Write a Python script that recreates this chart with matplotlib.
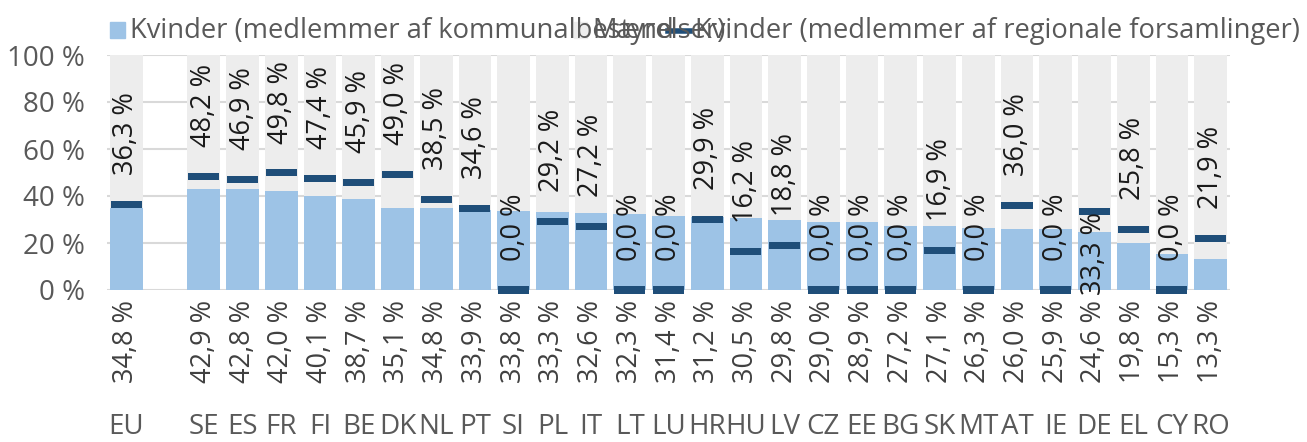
import numpy as np
import matplotlib
matplotlib.use("Agg")
import matplotlib.pyplot as plt
import matplotlib.patches as mpatches
from matplotlib.lines import Line2D

plt.rcParams['font.family'] = ['Open Sans', 'DejaVu Sans']

# Data
countries = ['EU', 'SE', 'ES', 'FR', 'FI', 'BE', 'DK', 'NL', 'PT', 'SI', 'PL', 'IT', 'LT', 'LU',
             'HR', 'HU', 'LV', 'CZ', 'EE', 'BG', 'SK', 'MT', 'AT', 'IE', 'DE', 'EL', 'CY', 'RO']
women_local = [34.8, 42.9, 42.8, 42.0, 40.1, 38.7, 35.1, 34.8, 33.9, 33.8, 33.3, 32.6, 32.3, 31.4,
               31.2, 30.5, 29.8, 29.0, 28.9, 27.2, 27.1, 26.3, 26.0, 25.9, 24.6, 19.8, 15.3, 13.3]
women_regional = [36.3, 48.2, 46.9, 49.8, 47.4, 45.9, 49.0, 38.5, 34.6, 0.0, 29.2, 27.2, 0.0, 0.0,
                  29.9, 16.2, 18.8, 0.0, 0.0, 0.0, 16.9, 0.0, 36.0, 0.0, 33.3, 25.8, 0.0, 21.9]
label_below = ['DE']

W, H = 1307, 442
fig = plt.figure(figsize=(W / 100, H / 100), dpi=100)
ax = fig.add_axes([107 / W, 152 / H, (1230 - 107) / W, 235 / H])

# EU first, then an empty slot, then the member states
x = np.array([0] + list(range(2, len(countries) + 1)))
bw = 0.845

light_blue = '#9DC3E6'
grey = '#EDEDED'
dark_blue = '#1F4E79'

ax.bar(x, 100, width=bw, color=grey, zorder=2)
ax.bar(x, women_local, width=bw, color=light_blue, zorder=3)
ax.bar(x, 3.0, bottom=np.array(women_regional) - 1.5, width=bw * 0.95,
       color=dark_blue, zorder=4, clip_on=False)

lab_fs = 19.5
for xi, c, loc, reg in zip(x, countries, women_local, women_regional):
    lab = f"{reg:.1f} %".replace('.', ',')
    if c in label_below:
        ax.text(xi, reg, lab, rotation=90, ha='center', va='top', fontsize=lab_fs,
                color='#1a1a1a', zorder=5, clip_on=False)
    else:
        ax.text(xi, reg + 12.5, lab, rotation=90, ha='center', va='bottom', fontsize=lab_fs,
                color='#1a1a1a', zorder=5)
    ax.text(xi, -4.3, f"{loc:.1f} %".replace('.', ','), rotation=90, ha='center', va='top',
            fontsize=lab_fs, color='#404040', clip_on=False)
    ax.text(xi, -58.5, c, ha='center', va='center', fontsize=20, color='#595959',
            clip_on=False)

ax.set_xlim(-0.5, len(countries) + 0.5)
ax.set_ylim(0, 100)
ax.set_yticks(range(0, 101, 20))
ax.set_yticklabels([f"{v} %" for v in range(0, 101, 20)])
ax.tick_params(axis='y', length=0, pad=16, labelsize=20, labelcolor='#595959')
ax.set_xticks([])
ax.grid(axis='y', color='#D9D9D9', linewidth=1.5, zorder=1)
ax.set_axisbelow(True)
for s in ax.spines.values():
    s.set_visible(False)

# Legend drawn by hand (entries overlap as in the original)
leg_fs = 19.7
ty = 1 - 31 / H
fig.patches.append(mpatches.Rectangle((110 / W, 1 - 38 / H), 15 / W, 16 / H,
                                      transform=fig.transFigure, color=light_blue))
fig.text(130 / W, ty, 'Kvinder (medlemmer af kommunalbestyrelser)', fontsize=leg_fs,
         color='#595959', va='center')
fig.patches.append(mpatches.Rectangle((574 / W, 1 - 38 / H), 13 / W, 16 / H,
                                      transform=fig.transFigure, color=grey))
fig.text(592 / W, ty, 'Mænd', fontsize=leg_fs, color='#595959', va='center')
fig.lines.append(Line2D([668 / W, 690 / W], [ty, ty], transform=fig.transFigure,
                        color=dark_blue, linewidth=4))
fig.text(695 / W, ty, 'Kvinder (medlemmer af regionale forsamlinger)', fontsize=leg_fs,
         color='#595959', va='center')

fig.savefig('out.png', dpi=100, facecolor='white')
